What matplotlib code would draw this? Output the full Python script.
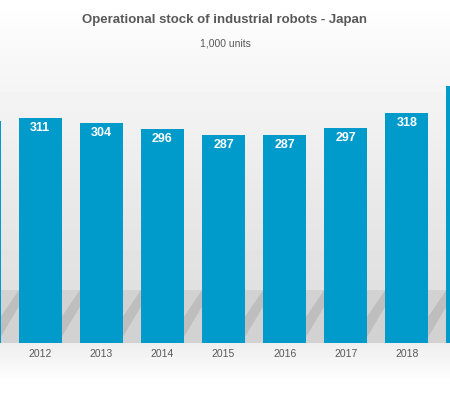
import numpy as np
import matplotlib
matplotlib.use("Agg")
from matplotlib import pyplot as plt
from matplotlib.patches import Polygon

plt.rcParams['font.family'] = ['Liberation Sans', 'DejaVu Sans']

# datos
years = ["2011", "2012", "2013", "2014", "2015", "2016", "2017", "2018", "2019"]
stock = [307, 311, 304, 296, 287, 287, 297, 318, 355]

bar_color = "#009bcb"
text_color = "#595959"

fig = plt.figure(figsize=(4.5, 3.95), dpi=100)

# fondo con degradado
bg = fig.add_axes([0, 0, 1, 1])
rows = np.linspace(0, 395, 395)
col = np.where(rows < 342,
               1.0 - 0.14 * (rows / 342) ** 0.9,
               0.93 + 0.07 * np.clip((rows - 342) / 40, 0, 1))
img = np.repeat(col[:, None], 10, axis=1)
bg.imshow(img, cmap="gray", vmin=0, vmax=1, aspect="auto", extent=[0, 450, 395, 0])
bg.set_xlim(0, 450)
bg.set_ylim(395, 0)
bg.axis("off")

# ejes principales
ax = fig.add_axes([0, 0.1324, 1, 0.8676])
ax.patch.set_alpha(0)
x = np.arange(len(years))
width = 0.704

# sombras de las barras
for i in x:
    xr = i + width / 2
    d = 1 - width
    ax.add_patch(Polygon([(xr, 0), (xr, 73), (xr + d, 73), (xr + d, 0)],
                         closed=True, color="#d2d2d2", lw=0, zorder=1))
    ax.add_patch(Polygon([(xr, 8), (xr + d, 50), (xr + d, 73), (xr, 36)],
                         closed=True, color="#bebebe", lw=0, zorder=1))

bars = ax.bar(x, stock, width=width, color=bar_color, zorder=2)

# etiquetas (las barras de los bordes quedan cortadas)
for i, v in enumerate(stock):
    if i == 0 or i == len(stock) - 1:
        continue
    ax.text(i, v - 14, str(v), ha="center", va="center", color="white",
            fontsize=9, fontweight="bold", zorder=3)
    ax.text(i, -16, years[i], ha="center", va="center", color=text_color,
            fontsize=7.5, clip_on=False)

ax.set_xlim(0.340, 7.708)
ax.set_ylim(0, 474.3)
ax.axis("off")

fig.text(0.5, 1 - 20 / 395, "Operational stock of industrial robots - Japan",
         ha="center", va="center", color=text_color, fontsize=9.5, fontweight="bold")
fig.text(0.5, 1 - 44 / 395, "1,000 units", ha="center", va="center",
         color=text_color, fontsize=7.5)

fig.savefig("out.png", dpi=100)
